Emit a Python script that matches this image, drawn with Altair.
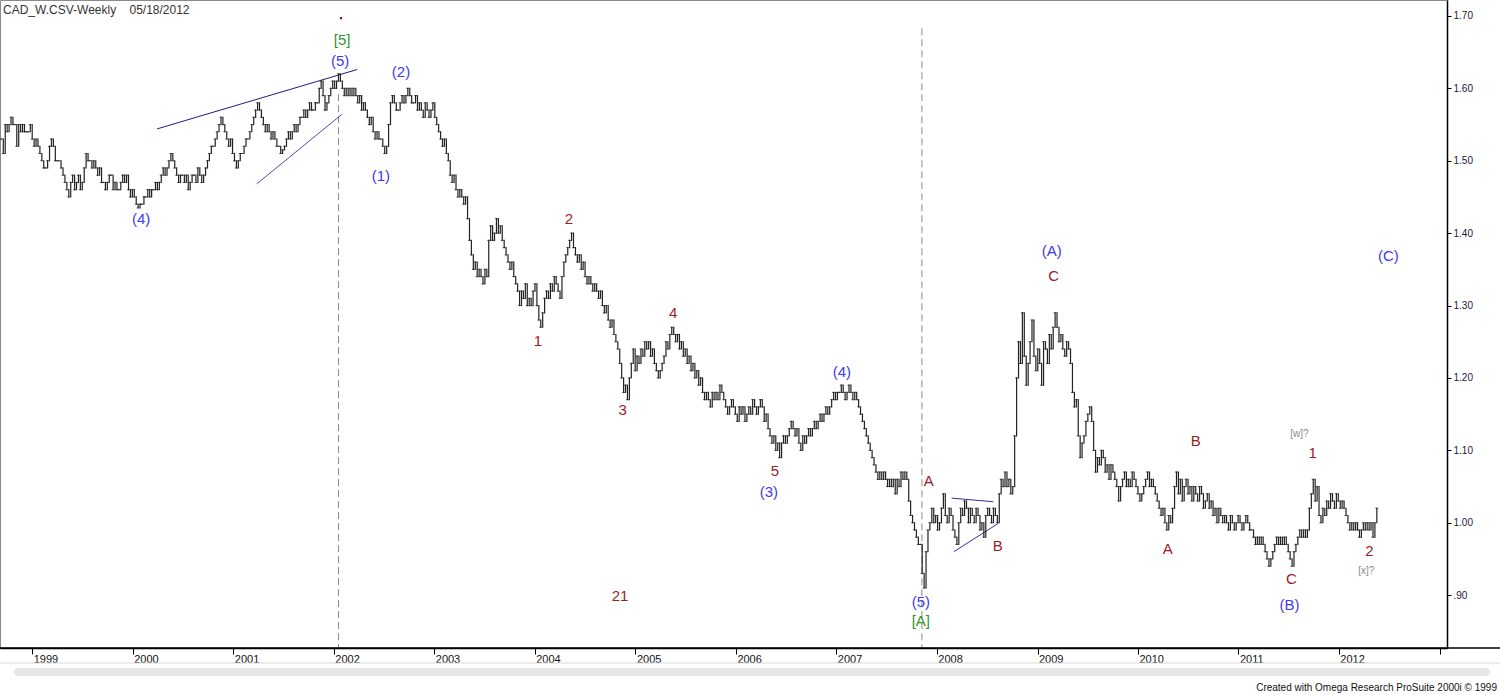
import altair as alt
import pandas as pd

# ---------------- data (weekly closes) ----------------
header_text = ["CAD_W.CSV-Weekly\u00a0\u00a0\u00a0\u00a005/18/2012"]
footer_text = ["Created with Omega Research ProSuite 2000i \u00a9 1999"]

close_1998_1999 = [
    1.53, 1.51, 1.55, 1.54, 1.55, 1.56, 1.55, 1.55, 1.52, 1.55, 1.54, 1.55, 1.54, 1.54, 1.54,
    1.55, 1.53, 1.52, 1.53, 1.52, 1.51, 1.50, 1.49, 1.49, 1.50, 1.52, 1.53, 1.52, 1.50, 1.50,
    1.50, 1.49, 1.48, 1.47, 1.46, 1.45, 1.47, 1.48, 1.46, 1.47, 1.48, 1.46, 1.47, 1.49, 1.51,
    1.50, 1.50, 1.49, 1.50, 1.49, 1.48, 1.49, 1.47, 1.47, 1.46, 1.47, 1.48, 1.48, 1.46, 1.47,
    1.46, 1.46, 1.47, 1.48, 1.47, 1.48, 1.46, 1.45, 1.46, 1.45,
]
close_2000_2001 = [
    1.44, 1.435, 1.44, 1.44, 1.45,
    1.45, 1.46, 1.45, 1.46, 1.46, 1.47, 1.46, 1.47, 1.48, 1.49, 1.48, 1.49, 1.50, 1.51, 1.50,
    1.49, 1.48, 1.47, 1.48, 1.48, 1.47, 1.48, 1.46, 1.47, 1.48, 1.48, 1.47, 1.49, 1.48, 1.47,
    1.48, 1.49, 1.50, 1.51, 1.52, 1.52, 1.53, 1.54, 1.55, 1.56, 1.55, 1.54, 1.53, 1.52, 1.53,
    1.51, 1.50, 1.49, 1.50, 1.51, 1.51, 1.52, 1.53, 1.53, 1.54, 1.55, 1.56, 1.57, 1.58, 1.57,
    1.56, 1.55, 1.54, 1.55, 1.54, 1.53, 1.54, 1.53, 1.52, 1.52, 1.51, 1.515, 1.52, 1.53, 1.54,
    1.53, 1.54, 1.55, 1.54, 1.55, 1.56, 1.56, 1.57, 1.56, 1.57, 1.58, 1.57, 1.57, 1.58, 1.58,
    1.60, 1.61, 1.59, 1.57, 1.58, 1.59, 1.60, 1.61,
]
close_2002_2003 = [
    1.60, 1.61, 1.62, 1.61, 1.60, 1.59, 1.60,
    1.59, 1.60, 1.59, 1.60, 1.59, 1.58, 1.59, 1.57, 1.58, 1.57, 1.56, 1.55, 1.56, 1.54, 1.53,
    1.54, 1.53, 1.53, 1.52, 1.51, 1.52, 1.55, 1.58, 1.59, 1.58, 1.57, 1.57, 1.58, 1.59, 1.58,
    1.59, 1.60, 1.59, 1.58, 1.58, 1.59, 1.57, 1.58, 1.57, 1.56, 1.58, 1.57, 1.56, 1.57, 1.58,
    1.56, 1.55, 1.54, 1.53, 1.52, 1.53, 1.51, 1.50, 1.48, 1.47, 1.48, 1.46, 1.45, 1.46, 1.45,
    1.44, 1.45, 1.42, 1.39, 1.37, 1.35, 1.36, 1.34, 1.35, 1.34, 1.33, 1.35, 1.34, 1.39, 1.41,
    1.39, 1.40, 1.42, 1.40, 1.41, 1.39, 1.38, 1.37, 1.36, 1.35, 1.36, 1.34, 1.33, 1.32, 1.30,
    1.32, 1.31, 1.33, 1.30, 1.31, 1.30, 1.32,
]
close_2004_2005 = [
    1.33, 1.30, 1.28, 1.27, 1.29, 1.31, 1.32, 1.31,
    1.33, 1.32, 1.34, 1.33, 1.32, 1.31, 1.34, 1.36, 1.37, 1.38, 1.39, 1.40, 1.38, 1.37, 1.36,
    1.37, 1.35, 1.36, 1.34, 1.33, 1.34, 1.33, 1.32, 1.33, 1.32, 1.31, 1.32, 1.30, 1.29, 1.30,
    1.28, 1.27, 1.28, 1.26, 1.25, 1.24, 1.22, 1.20, 1.18, 1.19, 1.17, 1.20, 1.22, 1.24, 1.21,
    1.23, 1.22, 1.24, 1.23, 1.25, 1.24, 1.25, 1.23, 1.24, 1.22, 1.21, 1.20, 1.21, 1.22, 1.23,
    1.25, 1.24, 1.26, 1.27, 1.26, 1.25, 1.26, 1.24, 1.25, 1.23, 1.24, 1.22, 1.23, 1.21, 1.22,
    1.20, 1.21, 1.19, 1.20, 1.18, 1.17, 1.18, 1.17, 1.16, 1.18, 1.17, 1.18, 1.17, 1.19, 1.18,
    1.17, 1.16, 1.15, 1.16, 1.17, 1.16, 1.15,
]
close_2006_2007 = [
    1.14, 1.16, 1.15, 1.16, 1.14, 1.15, 1.16, 1.15,
    1.17, 1.16, 1.15, 1.16, 1.17, 1.16, 1.14, 1.15, 1.13, 1.12, 1.11, 1.12, 1.10, 1.11, 1.09,
    1.11, 1.12, 1.11, 1.12, 1.13, 1.14, 1.13, 1.12, 1.13, 1.11, 1.10, 1.12, 1.11, 1.12, 1.13,
    1.12, 1.13, 1.14, 1.13, 1.14, 1.15, 1.14, 1.15, 1.16, 1.15, 1.16, 1.17, 1.18, 1.17, 1.18,
    1.18, 1.19, 1.18, 1.17, 1.18, 1.19, 1.18, 1.17, 1.18, 1.17, 1.16, 1.15, 1.14, 1.13, 1.12,
    1.11, 1.10, 1.09, 1.08, 1.07, 1.06, 1.07, 1.06, 1.07, 1.06, 1.05, 1.06, 1.05, 1.06, 1.04,
    1.06, 1.05, 1.07, 1.06, 1.07, 1.06, 1.03, 1.01, 1.00, 0.99, 0.98, 0.97, 0.97, 0.93, 0.91,
    0.96, 0.99, 1.00, 1.02, 1.00, 1.01,
]
close_2008_2009 = [
    0.99, 1.00, 1.02, 1.04, 1.01, 1.00, 1.02, 1.01, 0.99,
    0.98, 0.97, 1.00, 1.02, 1.01, 1.03, 1.02, 1.00, 1.02, 1.01, 1.00, 1.02, 1.01, 0.99, 1.00,
    0.98, 1.01, 1.02, 1.01, 1.00, 1.02, 1.01, 1.00, 1.04, 1.06, 1.05, 1.07, 1.05, 1.06, 1.04,
    1.05, 1.12, 1.20, 1.25, 1.22, 1.29, 1.23, 1.19, 1.22, 1.25, 1.28, 1.23, 1.21, 1.24, 1.22,
    1.19, 1.25, 1.24, 1.22, 1.26, 1.24, 1.27, 1.29, 1.27, 1.25, 1.26, 1.24, 1.23, 1.25, 1.24,
    1.22, 1.18, 1.16, 1.17, 1.12, 1.09, 1.11, 1.12, 1.14, 1.15, 1.16, 1.14, 1.10, 1.07, 1.09,
    1.08, 1.10, 1.09, 1.07, 1.08, 1.06, 1.08, 1.07, 1.06, 1.05, 1.03, 1.05, 1.06, 1.07, 1.05,
    1.06, 1.05, 1.07, 1.06, 1.05,
]
close_2010_2012 = [
    1.04, 1.03, 1.04, 1.05, 1.06, 1.07, 1.05, 1.06, 1.05, 1.04,
    1.03, 1.02, 1.01, 1.02, 1.00, 0.99, 1.01, 1.00, 1.02, 1.05, 1.07, 1.04, 1.06, 1.03, 1.05,
    1.06, 1.04, 1.05, 1.03, 1.05, 1.04, 1.03, 1.05, 1.04, 1.02, 1.03, 1.04, 1.02, 1.03, 1.01,
    1.02, 1.00, 1.02, 1.01, 1.00, 1.01, 1.00, 0.99, 1.01, 1.00, 0.99, 1.00, 1.01, 1.00, 0.99,
    1.00, 1.01, 1.00, 0.99, 0.99, 0.98, 0.97, 0.98, 0.97, 0.98, 0.97, 0.96, 0.95, 0.94, 0.95,
    0.96, 0.97, 0.98, 0.97, 0.98, 0.97, 0.98, 0.97, 0.96, 0.95, 0.94, 0.96, 0.97, 0.98, 0.99,
    0.98, 0.99, 0.98, 0.99, 1.02, 1.04, 1.06, 1.03, 1.05, 1.01, 1.00, 1.02, 1.01, 1.03, 1.02,
    1.04, 1.03, 1.02, 1.04, 1.03, 1.02, 1.03, 1.02, 1.01, 1.00, 0.99, 1.00, 0.99, 1.00, 0.99,
    0.98, 0.99, 1.00, 0.99, 1.00, 0.99, 1.00, 0.98, 1.00, 1.02,
]
first_week = "1998-09-11"

# wave labels: text, date, price level, colour group
label_text = ["[5]", "(5)", "(2)", "(1)", "(4)", "2", "1", "4", "3", "(4)", "5", "(3)", "21",
              "A", "B", "(5)", "[A]", "(A)", "C", "B", "A", "[w]?", "1", "C", "(B)", "2", "[x]?", "(C)"]
label_date = ["2002-01-31", "2002-01-24", "2002-09-02", "2002-06-21", "2000-02-01", "2004-05-04",
              "2004-01-13", "2005-05-18", "2004-11-16", "2007-01-21", "2006-05-23", "2006-05-01",
              "2004-11-06", "2007-12-03", "2008-08-10", "2007-11-04", "2007-11-04", "2009-02-22",
              "2009-03-01", "2010-07-30", "2010-04-19", "2011-08-11", "2011-09-28", "2011-07-13",
              "2011-07-06", "2012-04-21", "2012-04-10", "2012-06-29"]
label_value = [1.667, 1.638, 1.623, 1.479, 1.420, 1.420, 1.251, 1.290, 1.156, 1.208, 1.072, 1.043,
               0.899, 1.058, 0.968, 0.891, 0.864, 1.375, 1.341, 1.113, 0.964, 1.123, 1.096, 0.922,
               0.886, 0.961, 0.933, 1.369]
label_kind = ["green", "blue", "blue", "blue", "blue", "red", "red", "red", "red", "blue", "red", "blue",
              "red", "red", "red", "blue", "green", "blue", "red", "red", "red", "gray", "red", "red",
              "blue", "red", "gray", "blue"]

# trend lines (wedge / triangle)
line_start = ["2000-03-30", "2001-03-27", "2008-02-24", "2008-03-03"]
line_end = ["2002-03-27", "2002-01-30", "2008-07-24", "2008-08-11"]
line_v1 = [1.544, 1.468, 1.034, 0.960]
line_v2 = [1.626, 1.564, 1.029, 0.999]
line_color = ["#1c1c8a", "#4a4ab8", "#3030a0", "#3030a0"]

# dashed vertical markers
marker_date = ["2002-01-18", "2007-11-08"]
marker_top = [1.592, 1.683]
marker_bottom = [0.827, 0.827]

dot_date = ["2002-01-27"]
dot_value = [1.697]

price_ticks = [0.9, 1.0, 1.1, 1.2, 1.3, 1.4, 1.5, 1.6, 1.7]
year_ticks = list(range(1999, 2014))

# ---------------- build ----------------
closes = (close_1998_1999 + close_2000_2001 + close_2002_2003 + close_2004_2005 +
          close_2006_2007 + close_2008_2009 + close_2010_2012)
dates = pd.date_range(first_week, periods=len(closes), freq="7D")
df = pd.DataFrame({"date": dates.strftime("%Y-%m-%d"), "close": closes})
df["open"] = df["close"].shift(1).fillna(df["close"])
df["lo"] = df[["open", "close"]].min(axis=1)
df["hi"] = df[["open", "close"]].max(axis=1)

W, H = 1447, 648
FONT = "Liberation Sans"
BAR = "#222222"

xscale = alt.Scale(type="utc", nice=False,
                   domain=[alt.DateTime(year=1998, month=9, date=6, utc=True),
                           alt.DateTime(year=2013, month=1, date=28, utc=True)])
yscale = alt.Scale(domain=[0.827, 1.722], zero=False, nice=False)

xaxis = alt.Axis(values=[alt.DateTime(year=y, month=1, date=1, utc=True) for y in year_ticks],
                 format="%Y", formatType="utc",
                 labelExpr="utcyear(datum.value) >= 2013 ? '' : datum.label",
                 labelAlign="left", labelOffset=1, labelBaseline="top", labelPadding=-1,
                 tickSize=6, tickColor="#000", domainColor="#000", domainWidth=1.5,
                 labelFont=FONT, labelFontSize=11, labelColor="#111", grid=False, title=None)
yaxis = alt.Axis(orient="right", values=price_ticks,
                 labelExpr="datum.value < 1 ? '.' + substring(format(datum.value, '.2f'), 2) : format(datum.value, '.2f')",
                 tickSize=4, tickColor="#000", domainColor="#000", domainWidth=1.5,
                 labelFont=FONT, labelFontSize=10, labelColor="#1a1a3a", labelPadding=2,
                 grid=False, title=None)

bars = alt.Chart(df).mark_rule(color=BAR, strokeWidth=1.2, strokeCap="square").encode(
    x=alt.X("date:T", scale=xscale, axis=xaxis),
    y=alt.Y("lo:Q", scale=yscale, axis=yaxis),
    y2="hi:Q",
)
ticks = alt.Chart(df).mark_tick(orient="horizontal", size=3, thickness=1, color=BAR).encode(
    x=alt.X("date:T", scale=xscale),
    y=alt.Y("close:Q", scale=yscale),
)

mk = pd.DataFrame({"date": marker_date, "top": marker_top, "bottom": marker_bottom})
markers = alt.Chart(mk).mark_rule(color="#8a8a8a", strokeWidth=1, strokeDash=[7, 4]).encode(
    x=alt.X("date:T", scale=xscale), y=alt.Y("top:Q", scale=yscale), y2="bottom:Q")

ln = pd.DataFrame({"d1": line_start, "d2": line_end, "v1": line_v1, "v2": line_v2, "c": line_color})
lines = alt.Chart(ln).mark_rule(strokeWidth=1).encode(
    x=alt.X("d1:T", scale=xscale), x2="d2:T",
    y=alt.Y("v1:Q", scale=yscale), y2="v2:Q",
    color=alt.Color("c:N", scale=None))

lab = pd.DataFrame({"t": label_text, "date": label_date, "v": label_value, "k": label_kind})
lab["size"] = [10 if k == "gray" else 15 for k in label_kind]
labels = alt.Chart(lab).mark_text(font=FONT, align="center", baseline="middle").encode(
    x=alt.X("date:T", scale=xscale), y=alt.Y("v:Q", scale=yscale), text="t:N",
    size=alt.Size("size:Q", scale=None, legend=None),
    color=alt.Color("k:N", legend=None,
                    scale=alt.Scale(domain=["blue", "red", "green", "gray"],
                                    range=["#3c3cf0", "#9a1e1e", "#2f962f", "#8a8a8a"])))

dot = alt.Chart(pd.DataFrame({"date": dot_date, "v": dot_value})).mark_square(
    size=5, color="#8b1010", opacity=1).encode(x=alt.X("date:T", scale=xscale), y=alt.Y("v:Q", scale=yscale))

header = alt.Chart(pd.DataFrame({"t": header_text})).mark_text(
    font=FONT, fontSize=12, align="left", baseline="middle", color="#333").encode(
    x=alt.value(3), y=alt.value(10), text="t:N")

footer = alt.Chart(pd.DataFrame({"t": footer_text})).mark_text(
    font=FONT, fontSize=10, align="right", baseline="middle", color="#111").encode(
    x=alt.value(1497), y=alt.value(688), text="t:N")

bottom_line = alt.Chart(pd.DataFrame({"a": [0]})).mark_rule(color="#000", strokeWidth=1.5).encode(
    x=alt.value(0), x2=alt.value(1500), y=alt.value(648))
sep_line = alt.Chart(pd.DataFrame({"a": [0]})).mark_rule(color="#d8d8d8", strokeWidth=1).encode(
    x=alt.value(0), x2=alt.value(1500), y=alt.value(663))
scroll = alt.Chart(pd.DataFrame({"a": [0]})).mark_rect(color="#e6e6e6", cornerRadius=4).encode(
    x=alt.value(14), x2=alt.value(1490), y=alt.value(668), y2=alt.value(676))

chart = alt.layer(sep_line, scroll, markers, lines, bars, ticks, labels, dot, header, footer, bottom_line).properties(
    width=W, height=H,
    padding={"left": 0, "top": 0, "right": 53, "bottom": 47},
    autosize=alt.AutoSizeParams(type="none"),
    background="white",
).configure_view(stroke="#8a8a8a", strokeWidth=1)

chart.save("out.html", embed_options={"renderer": "svg", "actions": False})
